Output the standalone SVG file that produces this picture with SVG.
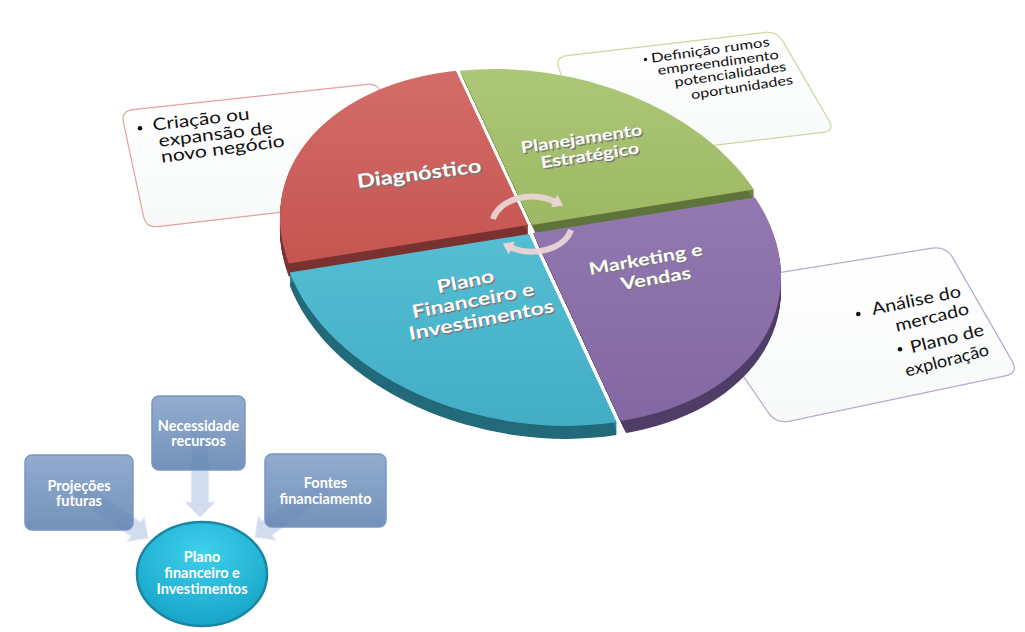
<svg xmlns="http://www.w3.org/2000/svg" xmlns:xlink="http://www.w3.org/1999/xlink" width="1025" height="632" viewBox="0 0 1025 632">
<style>
.lbl{font-family:Lato,"Liberation Sans",sans-serif;font-weight:700;fill:#ffffff}
.shd{font-family:Lato,"Liberation Sans",sans-serif;font-weight:700;fill:#7a7a7a}
.co{font-family:Lato,"Liberation Sans",sans-serif;fill:#111111}
.bx{font-family:Lato,"Liberation Sans",sans-serif;font-weight:700;fill:#ffffff;font-size:14.5px;text-anchor:middle}
.cbox{fill:url(#gCall)}
.blk{fill:#C9D7EC;fill-opacity:0.85;stroke:#E2EAF5;stroke-width:1}
.rbox{fill:url(#gBox);fill-opacity:0.86;stroke:#7897C2;stroke-width:1.5}
.cyc{fill:none;stroke:#EBD4D4;stroke-width:6;stroke-opacity:0.95}
</style>
<defs>
<linearGradient id="gCall" x1="0" y1="0" x2="0" y2="1"><stop offset="0" stop-color="#FFFFFF"/><stop offset="1" stop-color="#F7F9F9"/></linearGradient>
<linearGradient id="gRed" x1="0" y1="0" x2="0" y2="1"><stop offset="0" stop-color="#D36C68"/><stop offset="1" stop-color="#C55551"/></linearGradient>
<linearGradient id="gGreen" x1="0" y1="0" x2="0" y2="1"><stop offset="0" stop-color="#ABC778"/><stop offset="1" stop-color="#9DB963"/></linearGradient>
<linearGradient id="gPurple" x1="0" y1="0" x2="0" y2="1"><stop offset="0" stop-color="#9279B0"/><stop offset="1" stop-color="#8367A2"/></linearGradient>
<linearGradient id="gBlue" x1="0" y1="0" x2="0" y2="1"><stop offset="0" stop-color="#55BED3"/><stop offset="1" stop-color="#42ADC5"/></linearGradient>
<linearGradient id="gBox" x1="0" y1="0" x2="0" y2="1"><stop offset="0" stop-color="#7F9EC7"/><stop offset="1" stop-color="#5D80AE"/></linearGradient>
<radialGradient id="gCirc" cx="0.5" cy="0.3" r="0.75"><stop offset="0" stop-color="#3FD0EC"/><stop offset="1" stop-color="#13A2C6"/></radialGradient>
<path id="pRed" d="M530,229 L290.8,267.5 A250.6,170.3 11.2 0 1 457.9,74.8 Z"/>
<path id="pGreen" d="M530,229 L457.9,74.8 A250.6,170.3 11.2 0 1 752,193.5 Z"/>
<path id="pPurple" d="M530,229 L752,193.5 A250.6,170.3 11.2 0 1 617.6,417.1 Z"/>
<path id="pBlue" d="M530,229 L617.6,417.1 A250.6,170.3 11.2 0 1 290.8,267.5 Z"/>
<path id="blockArrow" d="M-86,-8.5 L-15,-8.5 L-15,-15 L0,0 L-15,15 L-15,8.5 L-86,8.5 Z"/>
<clipPath id="clipGreen" clipPathUnits="userSpaceOnUse"><polygon points="441.6,40 544.5,260 800,260 800,40"/></clipPath>
<clipPath id="clipPurple" clipPathUnits="userSpaceOnUse"><polygon points="493.2,150 637.6,460 820,460 820,150"/></clipPath>
<marker id="cycHead" markerUnits="userSpaceOnUse" markerWidth="16" markerHeight="16" viewBox="0 -8 12 16" refX="2" refY="0" orient="auto"><path d="M0,-7 L10,0 L0,7 Z" fill="#EBD4D4"/></marker>
</defs>

<!-- callout boxes (behind the pie) -->
<g id="callout-diagnostico">
<path class="cbox" stroke="#E6A09E" stroke-width="1.2" d="M132.9,109.7 L367.1,84.3 Q379,83 381.5,94.7 L401.5,186.3 Q404,198 392.1,199.4 L157.9,226.6 Q146,228 143.5,216.3 L123.5,122.7 Q121,111 132.9,109.7 Z"/>
<circle cx="140" cy="128.3" r="2.3" fill="#111"/>
<text class="co" font-size="17" transform="translate(153.3,130.7) rotate(-6.7)" textLength="97.4" lengthAdjust="spacingAndGlyphs">Criação ou</text>
<text class="co" font-size="17" transform="translate(159.3,146.7) rotate(-6.7)" textLength="114.8" lengthAdjust="spacingAndGlyphs">expansão de</text>
<text class="co" font-size="17" transform="translate(161.7,162.7) rotate(-7.5)" textLength="124.6" lengthAdjust="spacingAndGlyphs">novo negócio</text>
</g>
<g id="callout-planejamento">
<path class="cbox" stroke="#C8D89F" stroke-width="1.2" d="M566.9,55.6 L765.1,32.4 Q777,31 783,41.4 L829,120.6 Q835,131 823.1,132.4 L601.9,158.6 Q590,160 586.1,148.6 L558.9,68.4 Q555,57 566.9,55.6 Z"/>
<circle cx="645.5" cy="59.5" r="1.7" fill="#111"/>
<text class="co" font-size="13" transform="translate(651.7,62.7) rotate(-8)" textLength="119.5" lengthAdjust="spacingAndGlyphs">Definição rumos</text>
<text class="co" font-size="13" transform="translate(658.3,75) rotate(-7.6)" textLength="122" lengthAdjust="spacingAndGlyphs">empreendimento</text>
<text class="co" font-size="13" transform="translate(675,86.7) rotate(-8.2)" textLength="112.8" lengthAdjust="spacingAndGlyphs">potencialidades</text>
<text class="co" font-size="13" transform="translate(691.7,99.3) rotate(-8.6)" textLength="102.8" lengthAdjust="spacingAndGlyphs">oportunidades</text>
</g>
<g id="callout-marketing">
<path class="cbox" stroke="#B9A9CF" stroke-width="1.2" d="M696.8,285.8 L932.2,248.2 Q946,246 953,258.1 L1012,360.9 Q1019,373 1005.3,375.9 L789.7,421.1 Q776,424 768.1,412.4 L690.9,299.6 Q683,288 696.8,285.8 Z"/>
<circle cx="858.3" cy="314" r="2.3" fill="#111"/>
<circle cx="900" cy="349.3" r="2.3" fill="#111"/>
<text class="co" font-size="17" transform="translate(873,315) rotate(-11.7)" textLength="90.6" lengthAdjust="spacingAndGlyphs">Análise do</text>
<text class="co" font-size="17" transform="translate(896.7,331.7) rotate(-13.6)" textLength="75.4" lengthAdjust="spacingAndGlyphs">mercado</text>
<text class="co" font-size="17" transform="translate(911.7,353.3) rotate(-14)" textLength="75.6" lengthAdjust="spacingAndGlyphs">Plano de</text>
<text class="co" font-size="17" transform="translate(906.7,376.7) rotate(-14.6)" textLength="86" lengthAdjust="spacingAndGlyphs">exploração</text>
</g>

<!-- pie sectors -->
<g id="node-diagnostico">
<g transform="translate(-2,-4)">
<g fill="#8E3C39"><use href="#pRed" y="1"/><use href="#pRed" y="2"/><use href="#pRed" y="3"/><use href="#pRed" y="4"/><use href="#pRed" y="5"/><use href="#pRed" y="6"/><use href="#pRed" y="7"/><use href="#pRed" y="8"/><use href="#pRed" y="9"/></g>
<g fill="#7A3230"><use href="#pRed" y="10"/><use href="#pRed" y="11"/><use href="#pRed" y="12"/><use href="#pRed" y="13"/></g>
<use href="#pRed" fill="url(#gRed)"/>
</g>
<text class="shd" font-size="19" transform="translate(359.5,189.5) rotate(-7.35)" textLength="125" lengthAdjust="spacingAndGlyphs">Diagnóstico</text>
<text class="lbl" font-size="19" transform="translate(358,188) rotate(-7.35)" textLength="125" lengthAdjust="spacingAndGlyphs">Diagnóstico</text>
</g>

<g id="node-planejamento">
<g transform="translate(2,-4)">
<g clip-path="url(#clipGreen)">
<g fill="#6F8845"><use href="#pGreen" y="1"/><use href="#pGreen" y="2"/><use href="#pGreen" y="3"/><use href="#pGreen" y="4"/><use href="#pGreen" y="5"/><use href="#pGreen" y="6"/><use href="#pGreen" y="7"/><use href="#pGreen" y="8"/><use href="#pGreen" y="9"/></g>
<g fill="#5E743A"><use href="#pGreen" y="10"/><use href="#pGreen" y="11"/><use href="#pGreen" y="12"/><use href="#pGreen" y="13"/></g>
</g>
<use href="#pGreen" fill="url(#gGreen)"/>
</g>
<text class="shd" font-size="16" transform="translate(523.2,154.8) rotate(-8.6)" textLength="122.7" lengthAdjust="spacingAndGlyphs">Planejamento</text>
<text class="lbl" font-size="16" transform="translate(521.7,153.3) rotate(-8.6)" textLength="122.7" lengthAdjust="spacingAndGlyphs">Planejamento</text>
<text class="shd" font-size="16" transform="translate(543.2,169.8) rotate(-8.7)" textLength="99.4" lengthAdjust="spacingAndGlyphs">Estratégico</text>
<text class="lbl" font-size="16" transform="translate(541.7,168.3) rotate(-8.7)" textLength="99.4" lengthAdjust="spacingAndGlyphs">Estratégico</text>
</g>

<g id="node-marketing">
<g transform="translate(3,4)">
<g clip-path="url(#clipPurple)">
<g fill="#5F4A7B"><use href="#pPurple" y="1"/><use href="#pPurple" y="2"/><use href="#pPurple" y="3"/><use href="#pPurple" y="4"/><use href="#pPurple" y="5"/><use href="#pPurple" y="6"/><use href="#pPurple" y="7"/><use href="#pPurple" y="8"/><use href="#pPurple" y="9"/></g>
<g fill="#4F3D67"><use href="#pPurple" y="10"/><use href="#pPurple" y="11"/><use href="#pPurple" y="12"/><use href="#pPurple" y="13"/></g>
</g>
<use href="#pPurple" fill="url(#gPurple)"/>
</g>
<text class="shd" font-size="17" transform="translate(591.5,276.5) rotate(-10)" textLength="115" lengthAdjust="spacingAndGlyphs">Marketing e</text>
<text class="lbl" font-size="17" transform="translate(590,275) rotate(-10)" textLength="115" lengthAdjust="spacingAndGlyphs">Marketing e</text>
<text class="shd" font-size="17" transform="translate(623.2,291.5) rotate(-9.5)" textLength="71" lengthAdjust="spacingAndGlyphs">Vendas</text>
<text class="lbl" font-size="17" transform="translate(621.7,290) rotate(-9.5)" textLength="71" lengthAdjust="spacingAndGlyphs">Vendas</text>
</g>

<g id="node-plano-financeiro">
<g transform="translate(-1,5)">
<g fill="#2C7F90"><use href="#pBlue" y="1"/><use href="#pBlue" y="2"/><use href="#pBlue" y="3"/><use href="#pBlue" y="4"/><use href="#pBlue" y="5"/><use href="#pBlue" y="6"/><use href="#pBlue" y="7"/><use href="#pBlue" y="8"/><use href="#pBlue" y="9"/></g>
<g fill="#22697A"><use href="#pBlue" y="10"/><use href="#pBlue" y="11"/><use href="#pBlue" y="12"/><use href="#pBlue" y="13"/></g>
<use href="#pBlue" fill="url(#gBlue)"/>
</g>
<text class="shd" font-size="18" transform="translate(439.8,294.8) rotate(-11.6)" textLength="58" lengthAdjust="spacingAndGlyphs">Plano</text>
<text class="lbl" font-size="18" transform="translate(438.3,293.3) rotate(-11.6)" textLength="58" lengthAdjust="spacingAndGlyphs">Plano</text>
<text class="shd" font-size="18" transform="translate(414.8,319.8) rotate(-10.8)" textLength="124" lengthAdjust="spacingAndGlyphs">Financeiro e</text>
<text class="lbl" font-size="18" transform="translate(413.3,318.3) rotate(-10.8)" textLength="124" lengthAdjust="spacingAndGlyphs">Financeiro e</text>
<text class="shd" font-size="18" transform="translate(411.5,341.5) rotate(-11)" textLength="147.7" lengthAdjust="spacingAndGlyphs">Investimentos</text>
<text class="lbl" font-size="18" transform="translate(410,340) rotate(-11)" textLength="147.7" lengthAdjust="spacingAndGlyphs">Investimentos</text>
</g>

<!-- connectors (drawn beneath the semi-transparent lower boxes) -->
<g id="connectors">
<path class="cyc" d="M493,219 A40,28 0 0 1 556,202" marker-end="url(#cycHead)"/>
<path class="cyc" d="M571,230 A40,28 0 0 1 510,247" marker-end="url(#cycHead)"/>
<use href="#blockArrow" class="blk" transform="translate(200,517) rotate(90)"/>
<use href="#blockArrow" class="blk" transform="translate(148,538) rotate(35.2)"/>
<use href="#blockArrow" class="blk" transform="translate(255,537) rotate(144.1)"/>
</g>

<!-- lower-left diagram nodes -->
<g id="node-projecoes">
<rect class="rbox" x="25" y="455" width="108" height="75" rx="7"/>
<text class="bx" x="79" y="490.5">Projeções</text>
<text class="bx" x="79" y="506">futuras</text>
</g>
<g id="node-necessidade">
<rect class="rbox" x="152" y="396" width="93" height="74" rx="7"/>
<text class="bx" x="198.5" y="430.5">Necessidade</text>
<text class="bx" x="198.5" y="446">recursos</text>
</g>
<g id="node-fontes">
<rect class="rbox" x="265" y="454" width="121" height="73" rx="7"/>
<text class="bx" x="325.5" y="488">Fontes</text>
<text class="bx" x="325.5" y="503.5">financiamento</text>
</g>

<g id="node-plano-circulo">
<ellipse cx="202" cy="574" rx="65" ry="52" fill="url(#gCirc)" stroke="#1A86A3" stroke-width="2.5"/>
<text class="bx" font-size="14" x="202" y="562">Plano</text>
<text class="bx" font-size="14" x="202" y="578">financeiro e</text>
<text class="bx" font-size="14" x="202" y="594">Investimentos</text>
</g>
</svg>
